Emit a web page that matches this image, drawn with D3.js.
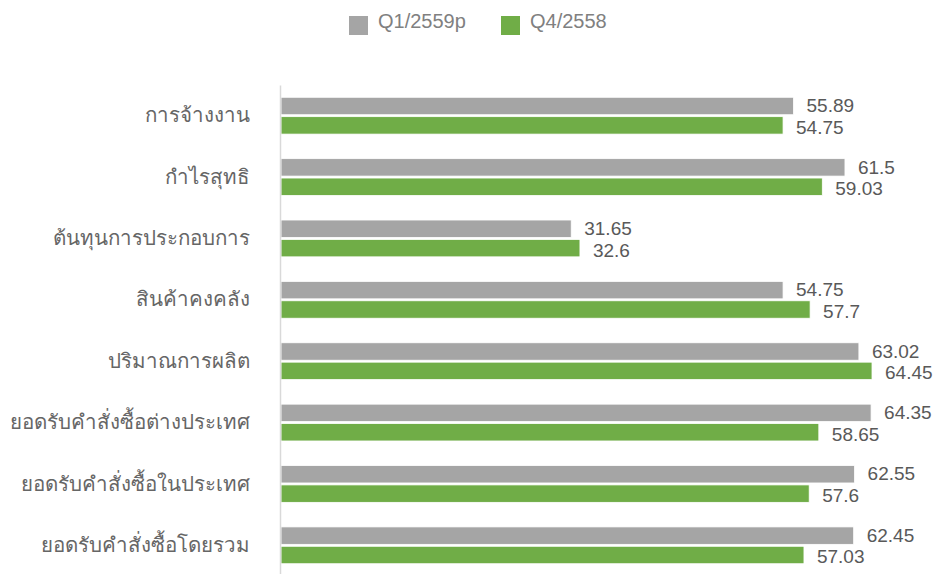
<!DOCTYPE html>
<html>
<head>
<meta charset="utf-8">
<script src="https://cdn.jsdelivr.net/npm/d3@7"></script>
<style>
  body { margin: 0; background: #fff; }
  text { font-family: "Liberation Sans", Tahoma, "Noto Sans", sans-serif; }
</style>
</head>
<body>
<svg id="chart" width="945" height="574"></svg>
<script>
var categories = ["การจ้างงาน", "กำไรสุทธิ", "ต้นทุนการประกอบการ", "สินค้าคงคลัง ",
    "ปริมาณการผลิต", "ยอดรับคำสั่งซื้อต่างประเทศ", "ยอดรับคำสั่งซื้อในประเทศ", "ยอดรับคำสั่งซื้อโดยรวม"];
var seriesNames = ["Q1/2559p", "Q4/2558"];
var q1_2559 = [55.89, 61.5, 31.65, 54.75, 63.02, 64.35, 62.55, 62.45];
var q4_2558 = [54.75, 59.03, 32.6, 57.7, 64.45, 58.65, 57.6, 57.03];
var colors = ["#a5a5a5", "#70ad47"];

function drawChart() {
    var svg = d3.select("#chart");
    var left = 281, top = 85, bottom = 576;

    var x = d3.scaleLinear().domain([0, 70]).range([left, left + 70 * 9.17]);
    var y = d3.scaleBand().domain(categories).range([top, bottom])
        .paddingInner(0.4).paddingOuter(0.2);
    var y1 = d3.scaleBand().domain(seriesNames).range([0, y.bandwidth()]).paddingInner(0.1);

    var rows = categories.map((c, i) => ({
        cat: c,
        vals: [{s: seriesNames[0], v: q1_2559[i]}, {s: seriesNames[1], v: q4_2558[i]}]
    }));

    // legend
    var legend = svg.append("g");
    var lx = [349, 501];
    seriesNames.forEach((s, i) => {
        legend.append("rect")
            .attr("x", lx[i]).attr("y", 16)
            .attr("width", 19).attr("height", 19)
            .attr("fill", colors[i]);
        legend.append("text")
            .attr("x", lx[i] + 29).attr("y", 21)
            .attr("dy", "0.35em")
            .attr("font-size", 20)
            .attr("fill", "#808080")
            .text(s);
    });

    var groups = svg.append("g").selectAll("g")
        .data(rows).enter().append("g")
        .attr("transform", d => "translate(0," + y(d.cat) + ")");

    groups.selectAll("rect")
        .data(d => d.vals).enter().append("rect")
        .attr("x", x(0))
        .attr("y", d => y1(d.s))
        .attr("width", d => x(d.v) - x(0))
        .attr("height", y1.bandwidth())
        .attr("fill", (d, i) => colors[i])
        .attr("stroke", "#fff")
        .attr("stroke-width", 0.8);

    // value labels, nudged apart a little so the pair doesn't collide
    groups.selectAll("text.val")
        .data(d => d.vals).enter().append("text")
        .attr("class", "val")
        .attr("x", d => x(d.v) + 13)
        .attr("y", (d, i) => y1(d.s) + y1.bandwidth() / 2 + (i === 0 ? -0.5 : 1.8))
        .attr("dy", "0.35em")
        .attr("font-size", 19)
        .attr("fill", "#595959")
        .text(d => d.v);

    // category axis
    var yAxis = svg.append("g")
        .attr("transform", "translate(" + (left - 1) + ",0)")
        .call(d3.axisLeft(y).tickSize(0).tickPadding(30));
    yAxis.select(".domain").attr("stroke", "#d9d9d9").attr("stroke-width", 1.5);
    yAxis.selectAll("text")
        .attr("font-size", 20.5)
        .attr("fill", "#666")
        .style("font-family", "Tahoma, \"Noto Sans\", sans-serif");
}

drawChart();
</script>
</body>
</html>
